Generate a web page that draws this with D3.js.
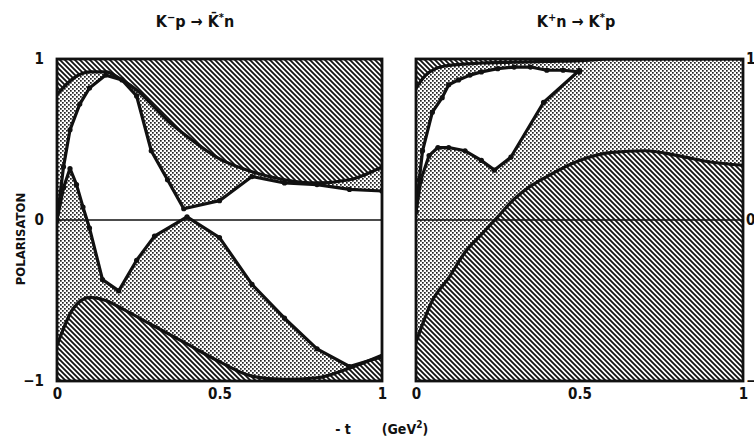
<!DOCTYPE html>
<html lang="en">
<head>
<meta charset="UTF-8">
<title>Polarisation</title>
<style>
  body { margin: 0; background: #fff; }
  svg { display: block; }
  text { font-family: "Liberation Sans Narrow", "DejaVu Sans Condensed", "Liberation Sans", sans-serif; font-weight: bold; fill: #111; }
</style>
</head>
<body>
<div id="chart"></div>
<script src="https://d3js.org/d3.v7.min.js"></script>
<script>
// ---- left panel: K- p -> K*bar n ----
var tUpperL = [0, 0.05, 0.1, 0.15, 0.2, 0.25, 0.3, 0.35, 0.4, 0.5, 0.6, 0.7, 0.8, 0.9, 1.0];
var upperL  = [0.78, 0.88, 0.92, 0.92, 0.87, 0.80, 0.70, 0.60, 0.52, 0.38, 0.30, 0.25, 0.23, 0.25, 0.33];
var tLowerL = [0, 0.05, 0.1, 0.15, 0.2, 0.3, 0.4, 0.5, 0.6, 0.7, 0.8, 0.9, 1.0];
var lowerL  = [-0.78, -0.55, -0.48, -0.50, -0.55, -0.66, -0.77, -0.88, -0.97, -0.99, -0.98, -0.92, -0.84];

var tLineAL = [0, 0.02, 0.04, 0.07, 0.1, 0.15, 0.2, 0.245, 0.29, 0.34, 0.39, 0.5, 0.6, 0.7, 0.8, 0.9, 1.0];
var lineAL  = [0.0, 0.33, 0.56, 0.72, 0.82, 0.90, 0.87, 0.77, 0.43, 0.25, 0.07, 0.12, 0.27, 0.23, 0.22, 0.19, 0.18];
var tLineBL = [0, 0.02, 0.04, 0.06, 0.08, 0.1, 0.14, 0.19, 0.245, 0.3, 0.4, 0.5, 0.6, 0.7, 0.8, 0.9, 1.0];
var lineBL  = [0.0, 0.2, 0.32, 0.22, 0.08, -0.05, -0.37, -0.44, -0.25, -0.1, 0.02, -0.11, -0.40, -0.61, -0.80, -0.91, -0.85];

// ---- right panel: K+ n -> K* p ----
var tUpperR = [0, 0.03, 0.06, 0.1, 0.2, 0.3, 0.4, 0.5, 0.6, 0.8, 1.0];
var upperR  = [0.82, 0.90, 0.94, 0.96, 0.975, 0.98, 0.985, 0.99, 1.0, 1.0, 1.0];
var tLowerR = [0, 0.05, 0.1, 0.15, 0.2, 0.25, 0.3, 0.35, 0.4, 0.5, 0.6, 0.7, 0.8, 0.9, 1.0];
var lowerR  = [-0.76, -0.5, -0.36, -0.2, -0.09, 0.02, 0.13, 0.21, 0.27, 0.37, 0.42, 0.43, 0.40, 0.36, 0.34];

var tLineCR = [0, 0.01, 0.02, 0.05, 0.08, 0.1, 0.13, 0.165, 0.2, 0.25, 0.3, 0.35, 0.4, 0.45, 0.5];
var lineCR  = [0.05, 0.25, 0.43, 0.67, 0.76, 0.84, 0.87, 0.90, 0.92, 0.94, 0.95, 0.95, 0.93, 0.93, 0.92];
var tLineDR = [0, 0.015, 0.04, 0.067, 0.1, 0.15, 0.2, 0.24, 0.29, 0.39, 0.5];
var lineDR  = [0.05, 0.25, 0.40, 0.45, 0.45, 0.43, 0.37, 0.31, 0.39, 0.73, 0.93];

var xTicks = [0, 0.5, 1];
var xTickLabels = ["0", "0.5", "1"];
var yTicks = [-1, 0, 1];
var yTickLabels = ["\u22121", "0", "1"];

var W = 754, H = 442;
var plotTop = 59, plotBottom = 381;

var svg = d3.select("#chart").append("svg")
    .attr("width", W)
    .attr("height", H);

var defs = svg.append("defs");

// diagonal hatching  "\\\\"
var hatch = defs.append("pattern")
    .attr("id", "hatch")
    .attr("patternUnits", "userSpaceOnUse")
    .attr("width", 5)
    .attr("height", 5);
hatch.append("rect").attr("width", 5).attr("height", 5).attr("fill", "#fff");
hatch.append("path")
    .attr("d", "M-1,-1 L6,6 M-1,4 L1,6 M4,-1 L6,1")
    .attr("stroke", "#111")
    .attr("stroke-width", 1.8);

// fine stipple
var dots = defs.append("pattern")
    .attr("id", "dots")
    .attr("patternUnits", "userSpaceOnUse")
    .attr("width", 4)
    .attr("height", 4);
dots.append("rect").attr("width", 4).attr("height", 4).attr("fill", "#fff");
dots.append("rect").attr("x", 0).attr("y", 0).attr("width", 1.7).attr("height", 1.7).attr("fill", "#222");
dots.append("rect").attr("x", 2).attr("y", 2).attr("width", 1.7).attr("height", 1.7).attr("fill", "#222");

var y = d3.scaleLinear().domain([-1, 1]).range([plotBottom, plotTop]);

function zip(ts, vs) {
    return ts.map(function (t, i) { return [t, vs[i]]; });
}

function drawPanel(id, x0, x1, upT, up, loT, lo, lineA, lineB, axisSide) {
    var x = d3.scaleLinear().domain([0, 1]).range([x0, x1]);
    var g = svg.append("g");

    defs.append("clipPath").attr("id", "clip" + id)
        .append("rect").attr("x", x0).attr("y", plotTop)
        .attr("width", x1 - x0).attr("height", plotBottom - plotTop);

    var inner = g.append("g").attr("clip-path", "url(#clip" + id + ")");

    // stipple everywhere inside the bounds
    inner.append("rect")
        .attr("x", x0).attr("y", plotTop)
        .attr("width", x1 - x0).attr("height", plotBottom - plotTop)
        .attr("fill", "url(#dots)");

    // white band between the two measured curves
    var line = d3.line().x(function (d) { return x(d[0]); }).y(function (d) { return y(d[1]); });
    var band = lineA.concat(lineB.slice().reverse());
    inner.append("path")
        .attr("d", line(band) + "Z")
        .attr("fill", "#fff");

    // hatched excluded regions
    var upArea = d3.area().curve(d3.curveMonotoneX)
        .x(function (d) { return x(d[0]); })
        .y0(y(1.05))
        .y1(function (d) { return y(d[1]); });
    var loArea = d3.area().curve(d3.curveMonotoneX)
        .x(function (d) { return x(d[0]); })
        .y0(y(-1.05))
        .y1(function (d) { return y(d[1]); });
    var upData = zip(upT, up), loData = zip(loT, lo);
    inner.append("path").attr("d", upArea(upData)).attr("fill", "url(#hatch)");
    inner.append("path").attr("d", loArea(loData)).attr("fill", "url(#hatch)");

    var smooth = d3.line().curve(d3.curveMonotoneX)
        .x(function (d) { return x(d[0]); }).y(function (d) { return y(d[1]); });
    inner.append("path").attr("d", smooth(upData))
        .attr("fill", "none").attr("stroke", "#111").attr("stroke-width", 3.2);
    inner.append("path").attr("d", smooth(loData))
        .attr("fill", "none").attr("stroke", "#111").attr("stroke-width", 3.2);

    // zero line
    inner.append("line")
        .attr("x1", x0).attr("x2", x1)
        .attr("y1", y(0)).attr("y2", y(0))
        .attr("stroke", "#111").attr("stroke-width", 1.6);

    // measured curves with points
    [lineA, lineB].forEach(function (pts) {
        inner.append("path").attr("d", line(pts))
            .attr("fill", "none").attr("stroke", "#111")
            .attr("stroke-width", 3.2).attr("stroke-linejoin", "round");
        inner.selectAll(null).data(pts).enter().append("circle")
            .attr("cx", function (d) { return x(d[0]); })
            .attr("cy", function (d) { return y(d[1]); })
            .attr("r", 2.6).attr("fill", "#111");
    });

    // frame
    g.append("rect")
        .attr("x", x0).attr("y", plotTop)
        .attr("width", x1 - x0).attr("height", plotBottom - plotTop)
        .attr("fill", "none").attr("stroke", "#111").attr("stroke-width", 2.8);

    // axes
    var xAxis = d3.axisBottom(x).tickValues(xTicks)
        .tickFormat(function (d, i) { return xTickLabels[i]; })
        .tickSize(0).tickPadding(7);
    var gx = g.append("g").attr("transform", "translate(0," + plotBottom + ")").call(xAxis);
    gx.select(".domain").remove();
    gx.selectAll("text").attr("font-size", 15).style("font-family", null).attr("fill", "#111");

    var yAxis = (axisSide === "left" ? d3.axisLeft(y) : d3.axisRight(y))
        .tickValues(yTicks)
        .tickFormat(function (d, i) { return yTickLabels[i]; })
        .tickSize(0).tickPadding(axisSide === "left" ? 13 : 3);
    var gy = g.append("g")
        .attr("transform", "translate(" + (axisSide === "left" ? x0 : x1) + ",0)")
        .call(yAxis);
    gy.select(".domain").remove();
    gy.selectAll("text").attr("font-size", 15).style("font-family", null).attr("fill", "#111");
}

drawPanel("L", 57, 382, tUpperL, upperL, tLowerL, lowerL,
    zip(tLineAL, lineAL), zip(tLineBL, lineBL), "left");
drawPanel("R", 416, 743, tUpperR, upperR, tLowerR, lowerR,
    zip(tLineCR, lineCR), zip(tLineDR, lineDR), "right");

// titles
function title(cx, parts) {
    var t = svg.append("text")
        .attr("x", cx).attr("y", 27)
        .attr("text-anchor", "middle")
        .attr("font-size", 16);
    parts.forEach(function (p) {
        var s = t.append("tspan").text(p[0]);
        if (p[1] === "sup") s.attr("dy", -6).attr("font-size", 11);
        if (p[1] === "back") s.attr("dy", 6);
    });
}
title(195, [["K"], ["\u2212", "sup"], ["p", "back"], [" \u2192 "], ["K\u0304"], ["*", "sup"], ["n", "back"]]);
title(576, [["K"], ["+", "sup"], ["n", "back"], [" \u2192 "], ["K"], ["*", "sup"], ["p", "back"]]);

// axis titles
svg.append("text")
    .attr("transform", "translate(25,239) rotate(-90)")
    .attr("text-anchor", "middle")
    .attr("font-size", 13)
    .text("POLARISATON");

svg.append("text")
    .attr("x", 343).attr("y", 434)
    .attr("text-anchor", "middle")
    .attr("font-size", 14)
    .text("- t");
var gev = svg.append("text")
    .attr("x", 405).attr("y", 434)
    .attr("text-anchor", "middle")
    .attr("font-size", 14);
gev.append("tspan").text("(GeV");
gev.append("tspan").attr("dy", -6).attr("font-size", 10).text("2");
gev.append("tspan").attr("dy", 6).text(")");
</script>
</body>
</html>
